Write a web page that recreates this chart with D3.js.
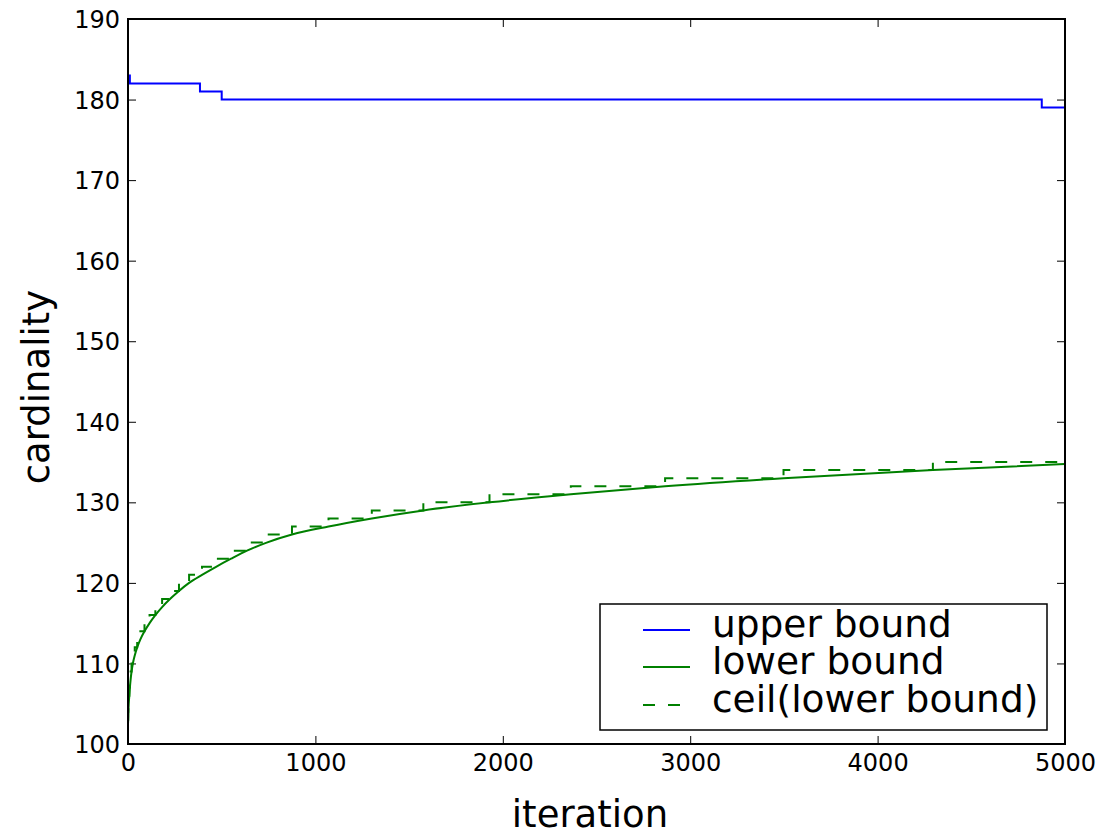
<!DOCTYPE html>
<html>
<head>
<meta charset="utf-8">
<script src="https://cdn.jsdelivr.net/npm/d3@7"></script>
<style>
  body { margin: 0; background: #fff; }
  svg text { font-family: "DejaVu Sans", sans-serif; }
  .axis text { font-size: 24px; fill: #000; font-family: "DejaVu Sans", sans-serif; }
  .axis line { stroke: #000; stroke-width: 1; }
  .axis-label { font-size: 37px; fill: #000; }
  .legend-text { font-size: 37.5px; fill: #000; }
</style>
</head>
<body>
<div id="chart"></div>
<script>
// upper bound (step function)
const upperIter  = [0, 10, 384, 500, 4876, 5000];
const upperValue = [183, 182, 181, 180, 179, 179];

// lower bound (smooth curve)
const lowerIter  = [0, 1, 2, 4, 7, 10, 14, 19, 26, 36, 49, 66, 88, 115, 146, 182, 224, 272, 326, 395, 470, 550, 635, 740, 875, 1070, 1301, 1576, 1929, 2363, 2866, 3498, 4295, 5000];
const lowerValue = [102.5, 103, 104, 105, 106, 107, 108, 109, 110, 111, 112, 113, 114, 115, 116, 117, 118, 119, 120, 121, 122, 123, 124, 125, 126, 127, 128, 129, 130, 131, 132, 133, 134, 134.75];

// ceil(lower bound) (step function)
const ceilIter  = [0, 1, 2, 4, 7, 10, 14, 19, 26, 36, 49, 66, 88, 115, 146, 182, 224, 272, 326, 395, 470, 550, 635, 740, 875, 1070, 1301, 1576, 1929, 2363, 2866, 3498, 4295, 5000];
const ceilLevel = [103, 104, 105, 106, 107, 108, 109, 110, 111, 112, 113, 114, 115, 116, 117, 118, 119, 120, 121, 122, 123, 124, 125, 126, 127, 128, 129, 130, 131, 132, 133, 134, 135, 135];

const xTicks = [0, 1000, 2000, 3000, 4000, 5000];
const yTicks = [100, 110, 120, 130, 140, 150, 160, 170, 180, 190];

const legendLabels = ["upper bound", "lower bound", "ceil(lower bound)"];

// dimensions
const margin = {top: 19, right: 38, bottom: 92, left: 128};
const W = 1103, H = 836;
const width = W - margin.left - margin.right;
const height = H - margin.top - margin.bottom;

const svg = d3.select("#chart")
    .append("svg")
    .attr("width", W)
    .attr("height", H)
    .append("g")
    .attr("transform", "translate(" + margin.left + "," + margin.top + ")");

const x = d3.scaleLinear().domain([0, 5000]).range([0, width]);
const y = d3.scaleLinear().domain([100, 190]).range([height, 0]);

// clip
svg.append("clipPath").attr("id", "clip")
    .append("rect").attr("width", width).attr("height", height);

// axes, ticks pointing inward on all four sides
svg.append("g")
    .attr("class", "axis")
    .attr("transform", "translate(0," + height + ")")
    .call(d3.axisBottom(x).tickValues(xTicks).tickFormat(d3.format("d"))
        .tickSizeInner(-8).tickSizeOuter(0).tickPadding(10))
    .call(g => g.select(".domain").remove());

svg.append("g")
    .attr("class", "axis")
    .call(d3.axisTop(x).tickValues(xTicks).tickSizeInner(-8).tickSizeOuter(0).tickFormat(""))
    .call(g => g.select(".domain").remove());

svg.append("g")
    .attr("class", "axis")
    .call(d3.axisLeft(y).tickValues(yTicks).tickSizeInner(-8).tickSizeOuter(0).tickPadding(8))
    .call(g => g.select(".domain").remove())
    .call(g => g.selectAll("text").attr("dy", "0.36em"));

svg.append("g")
    .attr("class", "axis")
    .attr("transform", "translate(" + width + ",0)")
    .call(d3.axisRight(y).tickValues(yTicks).tickSizeInner(-8).tickSizeOuter(0).tickFormat(""))
    .call(g => g.select(".domain").remove());

// lines
const stepLine = d3.line()
    .x(d => x(d[0]))
    .y(d => y(d[1]))
    .curve(d3.curveStepAfter);

const smoothLine = d3.line()
    .x(d => x(d[0]))
    .y(d => y(d[1]))
    .curve(d3.curveMonotoneX);

const plot = svg.append("g").attr("clip-path", "url(#clip)");

plot.append("path")
    .datum(upperIter.map((d, i) => [d, upperValue[i]]))
    .attr("d", stepLine)
    .attr("fill", "none")
    .attr("stroke", "#0000ff")
    .attr("stroke-width", 2);

plot.append("path")
    .datum(lowerIter.map((d, i) => [d, lowerValue[i]]))
    .attr("d", smoothLine)
    .attr("fill", "none")
    .attr("stroke", "#008000")
    .attr("stroke-width", 2);

plot.append("path")
    .datum(ceilIter.map((d, i) => [d, ceilLevel[i]]))
    .attr("d", stepLine)
    .attr("fill", "none")
    .attr("stroke", "#008000")
    .attr("stroke-width", 2)
    .attr("stroke-dasharray", "12,13");

// frame
svg.append("rect")
    .attr("width", width)
    .attr("height", height)
    .attr("fill", "none")
    .attr("stroke", "#000")
    .attr("stroke-width", 2);

// axis labels
svg.append("text")
    .attr("class", "axis-label")
    .attr("x", 590 - margin.left)
    .attr("y", 827 - margin.top)
    .attr("text-anchor", "middle")
    .text("iteration");

svg.append("text")
    .attr("class", "axis-label")
    .attr("transform", "rotate(-90)")
    .attr("x", -(387 - margin.top))
    .attr("y", 49 - margin.left)
    .attr("text-anchor", "middle")
    .text("cardinality");

// legend
const legend = svg.append("g")
    .attr("transform", "translate(" + (600 - margin.left) + "," + (604 - margin.top) + ")");

legend.append("rect")
    .attr("width", 447)
    .attr("height", 126)
    .attr("fill", "#fff")
    .attr("stroke", "#000")
    .attr("stroke-width", 1.5);

const legendColors = ["#0000ff", "#008000", "#008000"];
const legendDash = [null, null, "12,13"];
const legendRows = [26, 63, 101];

legendLabels.forEach((label, i) => {
    legend.append("line")
        .attr("x1", 43).attr("x2", 90)
        .attr("y1", legendRows[i]).attr("y2", legendRows[i])
        .attr("stroke", legendColors[i])
        .attr("stroke-width", 2)
        .attr("stroke-dasharray", legendDash[i]);
    legend.append("text")
        .attr("class", "legend-text")
        .attr("x", 112)
        .attr("y", legendRows[i] + 7)
        .text(label);
});
</script>
</body>
</html>
